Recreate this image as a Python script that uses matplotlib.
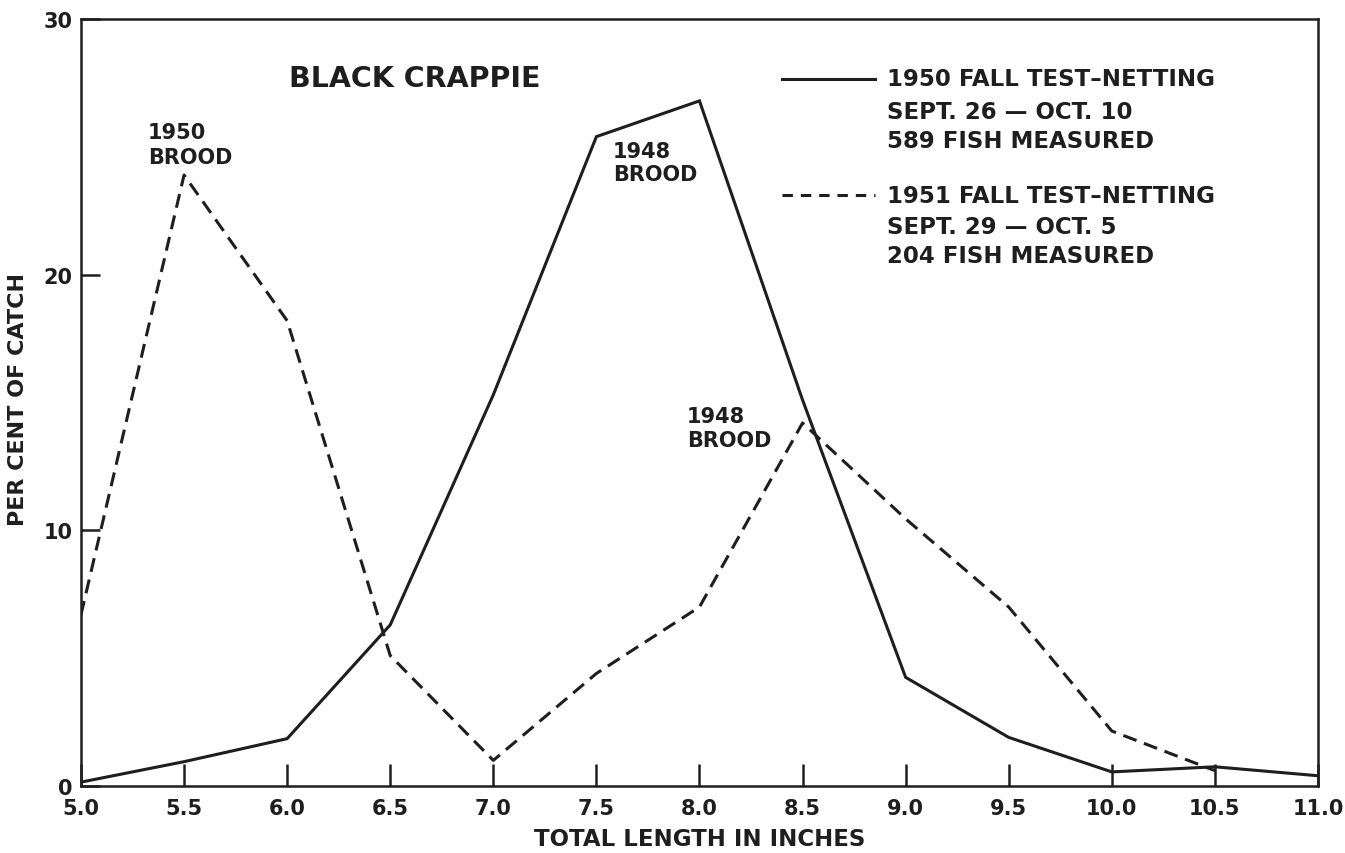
import matplotlib
matplotlib.use("Agg")
import matplotlib.pyplot as plt
from matplotlib.ticker import FixedLocator

# ---- data ----
lengths = [5.0, 5.5, 6.0, 6.5, 7.0, 7.5, 8.0, 8.5, 9.0, 9.5, 10.0, 10.5, 11.0]
catch_1950 = [0.15, 0.95, 1.85, 6.3, 15.3, 25.4, 26.8, 15.1, 4.25, 1.9, 0.55, 0.75, 0.4]
lengths_1951 = [5.0, 5.5, 6.0, 6.5, 7.0, 7.5, 8.0, 8.5, 9.0, 9.5, 10.0, 10.5]
catch_1951 = [6.7, 23.9, 18.2, 5.1, 1.0, 4.4, 7.0, 14.2, 10.45, 7.0, 2.15, 0.6]

x_ticks = [5.0, 5.5, 6.0, 6.5, 7.0, 7.5, 8.0, 8.5, 9.0, 9.5, 10.0, 10.5, 11.0]
x_tick_labels = ["5.0", "5.5", "6.0", "6.5", "7.0", "7.5", "8.0", "8.5", "9.0",
                 "9.5", "10.0", "10.5", "11.0"]
y_ticks = [0, 10, 20, 30]
y_tick_labels = ["0", "10", "20", "30"]

title = "BLACK CRAPPIE"
legend_1950 = ["1950 FALL TEST\u2013NETTING", "SEPT. 26 \u2014 OCT. 10", "589 FISH MEASURED"]
legend_1951 = ["1951 FALL TEST\u2013NETTING", "SEPT. 29 \u2014 OCT. 5", "204 FISH MEASURED"]
xlabel = "TOTAL LENGTH IN INCHES"
ylabel = "PER CENT OF CATCH"

ink = "#1e1e1e"
plt.rcParams['font.family'] = ['DejaVu Sans']

fig = plt.figure(figsize=(13.45, 8.54), dpi=100, facecolor="white")
ax = fig.add_axes([0.0602, 0.0785, 0.9197, 0.898])
ax.set_facecolor("white")

dash = (0, (4.6, 2.6))
ax.plot(lengths, catch_1950, color=ink, lw=2.2, solid_joinstyle="miter")
ax.plot(lengths_1951, catch_1951, color=ink, lw=2.2, linestyle=dash)

ax.set_xlim(5.0, 11.0)
ax.set_ylim(0, 30)
ax.xaxis.set_major_locator(FixedLocator(x_ticks))
ax.set_xticklabels(x_tick_labels, fontweight="bold")
ax.yaxis.set_major_locator(FixedLocator(y_ticks))
ax.set_yticklabels(y_tick_labels, fontweight="bold")
ax.tick_params(axis="x", direction="in", length=16, width=1.8, pad=9,
               labelsize=15, colors=ink)
ax.tick_params(axis="y", direction="in", length=14, width=1.8, pad=6,
               labelsize=15, colors=ink)
for s in ax.spines.values():
    s.set_linewidth(1.8)
    s.set_color(ink)

# labels
ax.text(0.5, -0.054, xlabel, transform=ax.transAxes, ha="center", va="top",
        fontsize=16.5, fontweight="bold", color=ink)
fig.text(18 / 1345, 1 - 400 / 854, ylabel, rotation=90, ha="center", va="center",
         fontsize=16, fontweight="bold", color=ink)

# annotations
ax.text(6.01, 27.7, title, ha="left", va="center", fontsize=20.5,
        fontweight="bold", color=ink)
ax.text(5.325, 25.1, "1950\nBROOD", ha="left", va="center", fontsize=15,
        fontweight="bold", color=ink, linespacing=1.3)
ax.text(7.58, 24.4, "1948\nBROOD", ha="left", va="center", fontsize=15,
        fontweight="bold", color=ink, linespacing=1.2)
ax.text(7.94, 14.0, "1948\nBROOD", ha="left", va="center", fontsize=15,
        fontweight="bold", color=ink, linespacing=1.2)

# legend
ax.plot([0.567, 0.642], [0.922, 0.922], transform=ax.transAxes, color=ink, lw=2.2)
ax.plot([0.567, 0.642], [0.7705, 0.7705], transform=ax.transAxes, color=ink, lw=2.2,
        linestyle=(0, (3.4, 2.6)))
for txt, yy in zip(legend_1950, [0.922, 0.880, 0.842]):
    ax.text(0.652, yy, txt, transform=ax.transAxes, ha="left", va="center",
            fontsize=16.5, fontweight="bold", color=ink)
for txt, yy in zip(legend_1951, [0.7705, 0.730, 0.692]):
    ax.text(0.652, yy, txt, transform=ax.transAxes, ha="left", va="center",
            fontsize=16.5, fontweight="bold", color=ink)

fig.savefig("out.png", dpi=100, facecolor="white")
